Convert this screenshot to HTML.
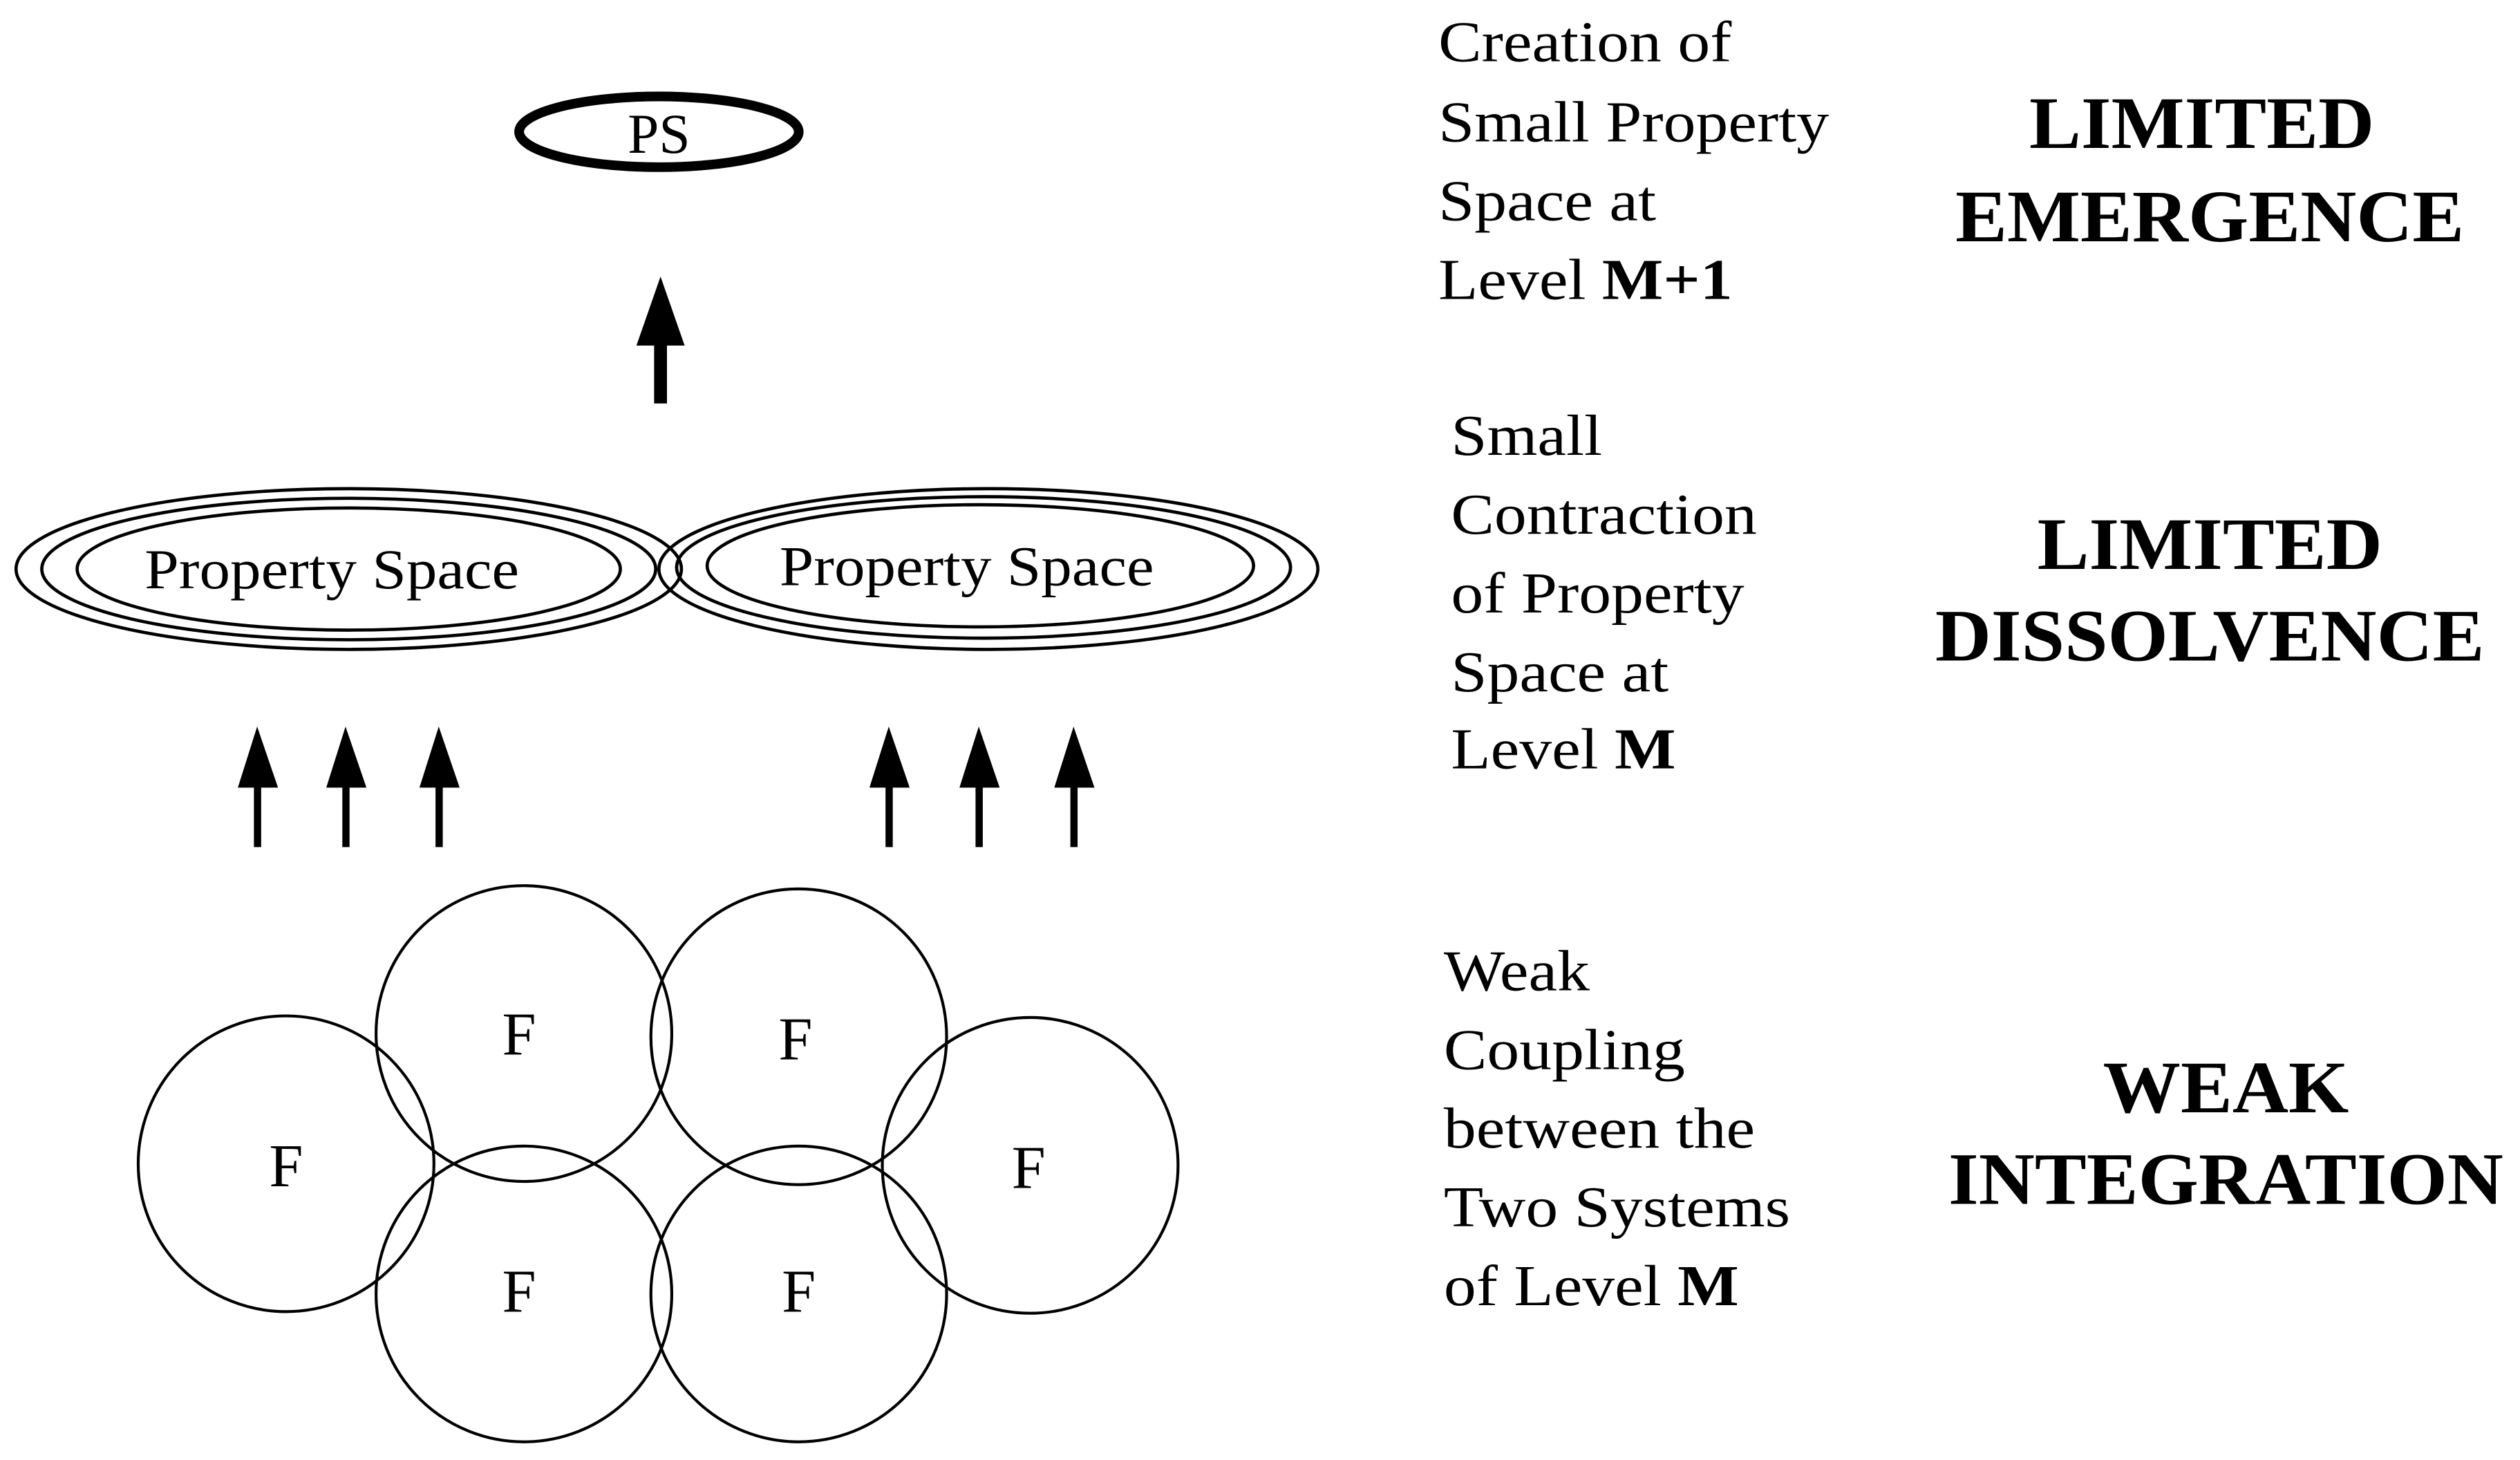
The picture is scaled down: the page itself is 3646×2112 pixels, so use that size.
<!DOCTYPE html>
<html><head><meta charset="utf-8"><style>
html,body{margin:0;padding:0;background:#fff;}
svg{display:block;}
text{font-family:"Liberation Serif",serif;fill:#000;}
</style></head><body>
<svg width="3646" height="2112" viewBox="0 0 1568 908.3" preserveAspectRatio="none" xmlns="http://www.w3.org/2000/svg">
<g fill="none" stroke="#000">
<ellipse cx="410" cy="82" rx="87" ry="22" stroke-width="6"/>
<ellipse cx="217" cy="354" rx="207" ry="50" stroke-width="2"/>
<ellipse cx="217" cy="354" rx="191" ry="44" stroke-width="2"/>
<ellipse cx="217" cy="354" rx="169" ry="38" stroke-width="2"/>
<ellipse cx="615" cy="354" rx="205" ry="50" stroke-width="2"/>
<ellipse cx="612" cy="353" rx="191" ry="44" stroke-width="2"/>
<ellipse cx="610" cy="352" rx="170" ry="38" stroke-width="2"/>
<g stroke-width="1.8">
<circle cx="178" cy="724" r="92"/>
<circle cx="326" cy="643" r="92"/>
<circle cx="497" cy="645" r="92"/>
<circle cx="641" cy="725" r="92"/>
<circle cx="326" cy="805" r="92"/>
<circle cx="497" cy="805" r="92"/>
</g>
</g>
<g fill="#000">
<rect x="407" y="210" width="8" height="41"/>
<polygon points="411,172 396,215 426,215"/>
<g id="a">
<rect x="158" y="488" width="4.5" height="39"/>
<polygon points="160,452 148,490 173,490"/>
</g>
<use href="#a" x="55"/><use href="#a" x="113"/><use href="#a" x="393"/><use href="#a" x="449"/><use href="#a" x="508"/>
</g>
<text x="410" y="95" font-size="35" text-anchor="middle">PS</text>
<text x="90" y="366" font-size="35" textLength="233" lengthAdjust="spacingAndGlyphs">Property Space</text>
<text x="485" y="364" font-size="35" textLength="233" lengthAdjust="spacingAndGlyphs">Property Space</text>
<g font-size="38" text-anchor="middle">
<text x="178" y="738">F</text><text x="323" y="656">F</text><text x="495" y="659">F</text>
<text x="640" y="739">F</text><text x="323" y="816">F</text><text x="497" y="816">F</text>
</g>
<g font-size="36" transform="translate(895,0) scale(1.12,1) translate(-895,0)">
<text x="895" y="38">Creation of</text>
<text x="895" y="88">Small Property</text>
<text x="895" y="137">Space at</text>
<text x="895" y="186">Level <tspan font-weight="bold">M+1</tspan></text>
<text x="902" y="283">Small</text>
<text x="902" y="332">Contraction</text>
<text x="902" y="381">of Property</text>
<text x="902" y="430">Space at</text>
<text x="902" y="478">Level <tspan font-weight="bold">M</tspan></text>
<text x="898" y="616">Weak</text>
<text x="898" y="665">Coupling</text>
<text x="898" y="714">between the</text>
<text x="898" y="763">Two Systems</text>
<text x="898" y="812">of Level <tspan font-weight="bold">M</tspan></text>
</g>
<g font-size="46" font-weight="bold" text-anchor="middle">
<text x="1370" y="92" transform="translate(1370,0) scale(1.05,1) translate(-1370,0)">LIMITED</text>
<text x="1375" y="150" transform="translate(1375,0) scale(1.05,1) translate(-1375,0)">EMERGENCE</text>
<text x="1375" y="354" transform="translate(1375,0) scale(1.05,1) translate(-1375,0)">LIMITED</text>
<text x="1375" y="411" transform="translate(1375,0) scale(1.05,1) translate(-1375,0)">DISSOLVENCE</text>
<text x="1385" y="692" transform="translate(1385,0) scale(1.05,1) translate(-1385,0)">WEAK</text>
<text x="1385" y="749" transform="translate(1385,0) scale(1.05,1) translate(-1385,0)">INTEGRATION</text>
</g>
</svg>
</body></html>
